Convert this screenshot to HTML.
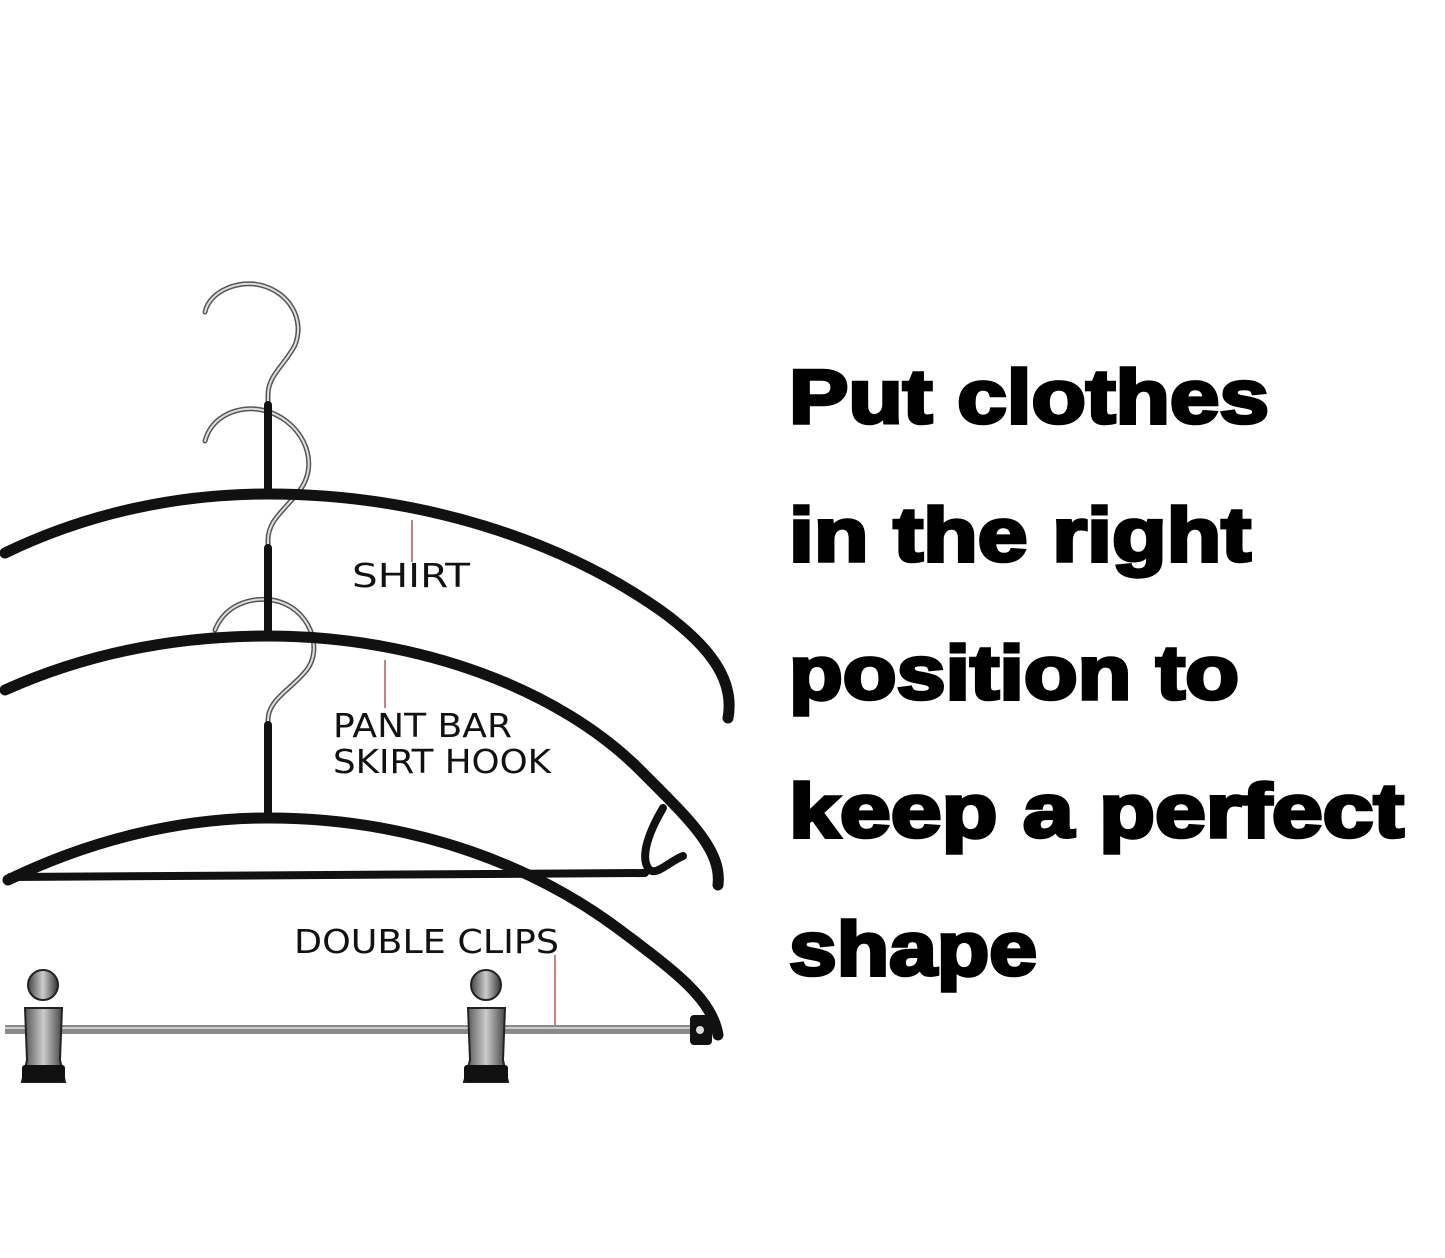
<!DOCTYPE html>
<html><head><style>
html,body{margin:0;padding:0;background:#fff;}
svg{display:block;}
.big{font-family:"Liberation Sans",Arial,sans-serif;font-weight:bold;font-size:76px;fill:#000;stroke:#000;stroke-width:3.5;}
.lbl{font-family:"DejaVu Sans","Liberation Sans",sans-serif;font-size:33px;fill:#111;}
</style></head><body>
<svg width="1445" height="1258" viewBox="0 0 1445 1258" xmlns="http://www.w3.org/2000/svg">
<defs>
<linearGradient id="chrome" x1="0" y1="0" x2="1" y2="0">
<stop offset="0" stop-color="#444"/><stop offset="0.5" stop-color="#ccc"/><stop offset="1" stop-color="#333"/>
</linearGradient>
</defs>
<rect width="1445" height="1258" fill="#fff"/>

<!-- hooks (silver wire) -->
<g fill="none" stroke-linecap="round">
<g stroke="#555" stroke-width="5">
<path d="M205,312 C210,290 240,280 260,285 C290,292 305,320 295,345 C285,365 268,375 268,395 L268,490"/>
<path d="M205,441 C212,415 240,405 262,410 C300,418 322,460 300,490 C285,510 268,520 268,540 L268,632"/>
<path d="M215,630 C225,605 250,597 272,600 C310,606 325,650 305,672 C290,690 268,700 268,720 L268,812"/>
</g>
<g stroke="#ddd" stroke-width="2">
<path d="M205,312 C210,290 240,280 260,285 C290,292 305,320 295,345 C285,365 268,375 268,395 L268,490"/>
<path d="M205,441 C212,415 240,405 262,410 C300,418 322,460 300,490 C285,510 268,520 268,540 L268,632"/>
<path d="M215,630 C225,605 250,597 272,600 C310,606 325,650 305,672 C290,690 268,700 268,720 L268,812"/>
</g>
</g>
<!-- black stems -->
<g stroke="#111" stroke-width="8" stroke-linecap="round">
<line x1="268" y1="405" x2="268" y2="492"/>
<line x1="268" y1="548" x2="268" y2="632"/>
<line x1="268" y1="725" x2="268" y2="812"/>
</g>

<!-- hanger arms -->
<g fill="none" stroke="#111" stroke-width="11" stroke-linecap="round">
<path d="M5,553 C90,512 180,494 268,494 C420,494 560,540 660,610 C710,646 735,680 728,718"/>
<path d="M5,690 C90,652 180,636 268,636 C420,636 560,690 640,770 C690,820 722,850 718,885"/>
<path d="M8,880 C90,840 180,818 268,818 C420,818 540,870 620,930 C680,975 712,1000 718,1035"/>
<path d="M10,877 L645,873" stroke-width="8"/>
<path d="M663,808 C650,830 640,855 648,868 C655,878 668,862 683,856" stroke-width="8"/>
</g>

<!-- clip bar -->
<rect x="5" y="1025" width="700" height="9" fill="#8a8a8a"/>
<rect x="5" y="1027" width="700" height="2" fill="#ccc"/>
<rect x="690" y="1015" width="22" height="30" rx="4" fill="#111"/>
<circle cx="700" cy="1030" r="4" fill="#ddd"/>

<!-- clips -->
<g>
<circle cx="43" cy="985" r="15" fill="url(#chrome)" stroke="#222" stroke-width="2"/>
<path d="M25,1008 L62,1008 L60,1060 L65,1082 L22,1082 L27,1060 Z" fill="url(#chrome)" stroke="#222" stroke-width="2"/>
<rect x="22" y="1065" width="43" height="17" rx="3" fill="#111"/>
<circle cx="486" cy="985" r="15" fill="url(#chrome)" stroke="#222" stroke-width="2"/>
<path d="M468,1008 L505,1008 L503,1060 L508,1082 L464,1082 L470,1060 Z" fill="url(#chrome)" stroke="#222" stroke-width="2"/>
<rect x="464" y="1065" width="44" height="17" rx="3" fill="#111"/>
</g>

<!-- red leader lines -->
<g stroke="#b55" stroke-width="1.5">
<line x1="412" y1="520" x2="412" y2="562"/>
<line x1="385" y1="660" x2="385" y2="708"/>
<line x1="555" y1="955" x2="555" y2="1025"/>
</g>

<!-- labels -->
<text class="lbl" x="352" y="587" textLength="118" lengthAdjust="spacingAndGlyphs">SHIRT</text>
<text class="lbl" x="333" y="737" textLength="179" lengthAdjust="spacingAndGlyphs">PANT BAR</text>
<text class="lbl" x="333" y="773" textLength="218" lengthAdjust="spacingAndGlyphs">SKIRT HOOK</text>
<text class="lbl" x="294" y="953" textLength="265" lengthAdjust="spacingAndGlyphs">DOUBLE CLIPS</text>

<!-- big text -->
<text class="big" x="789" y="423" textLength="480" lengthAdjust="spacingAndGlyphs">Put clothes</text>
<text class="big" x="789" y="561" textLength="462" lengthAdjust="spacingAndGlyphs">in the right</text>
<text class="big" x="789" y="699" textLength="450" lengthAdjust="spacingAndGlyphs">position to</text>
<text class="big" x="789" y="837" textLength="615" lengthAdjust="spacingAndGlyphs">keep a perfect</text>
<text class="big" x="789" y="975" textLength="248" lengthAdjust="spacingAndGlyphs">shape</text>
</svg>
</body></html>
